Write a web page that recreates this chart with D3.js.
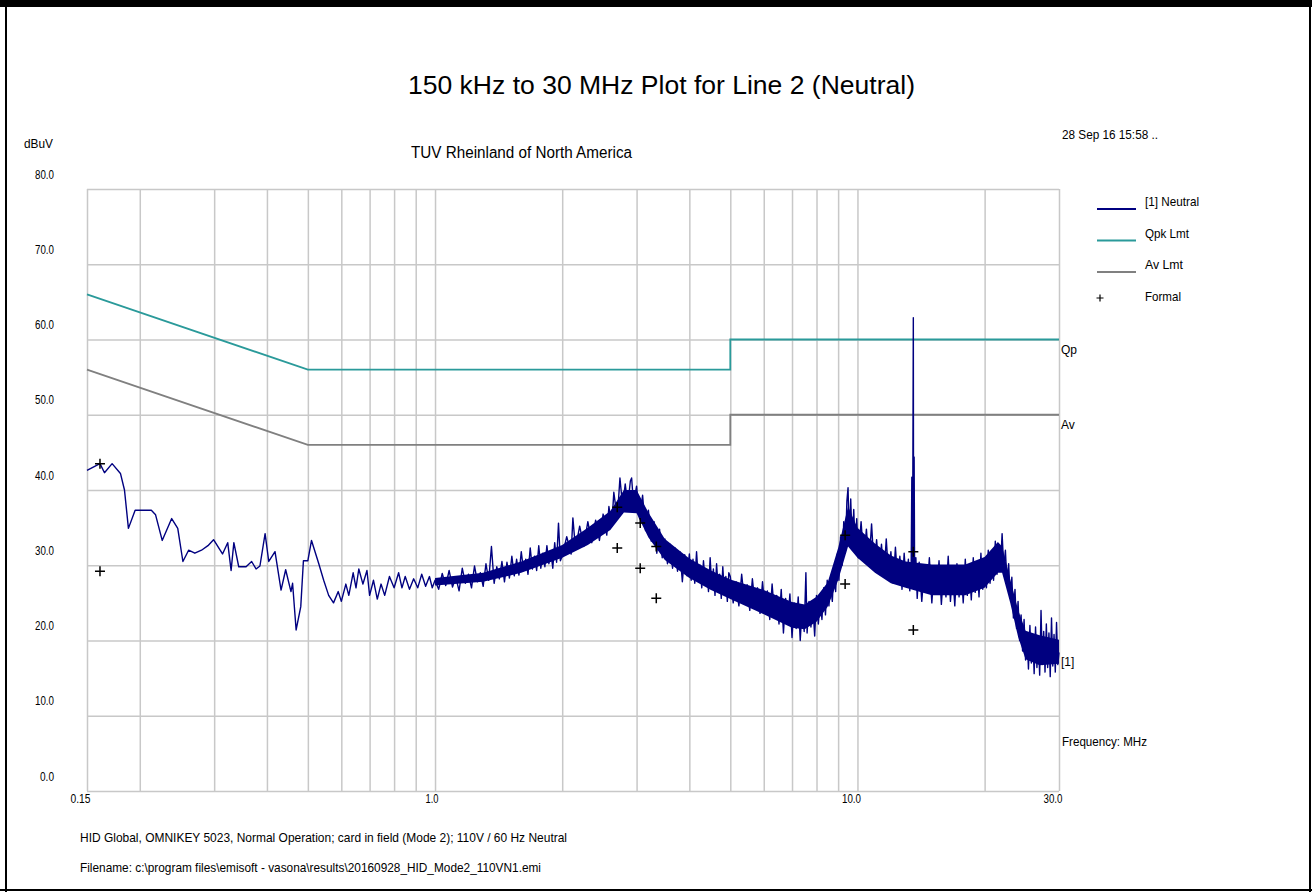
<!DOCTYPE html>
<html>
<head>
<meta charset="utf-8">
<script src="https://cdn.jsdelivr.net/npm/d3@7"></script>
<style>
  body { margin: 0; background: #fff; }
  svg { display: block; }
  text { font-family: "Liberation Sans Narrow", "Arial Narrow", "Liberation Sans", Arial, sans-serif; fill: #000; font-size: 13px; }
  .title { font-family: "Liberation Sans", Arial, sans-serif; font-size: 25px; }
  .grid line { stroke: #c8c8c8; stroke-width: 1.5; }
  .grid path { display: none; }
  .axis path, .axis line { display: none; }
  .axis text { font-size: 13px; }
</style>
</head>
<body>
<div class="chart"></div>
<script>
// axis values
var yTicks = [0, 10, 20, 30, 40, 50, 60, 70, 80];
var xTickLabels = [0.15, 1.0, 10.0, 30.0];
var gridMHz = [0.15, 0.2, 0.3, 0.4, 0.5, 0.6, 0.7, 0.8, 0.9, 1, 2, 3, 4, 5, 6, 7, 8, 9, 10, 20, 30];

// limit lines (MHz, dBuV)
var qpkLimit = [[0.15, 66], [0.5, 56], [5, 56], [5, 60], [30, 60]];
var avLimit = [[0.15, 56], [0.5, 46], [5, 46], [5, 50], [30, 50]];

// formal measurements
var formalMHz = [0.161, 0.161, 2.70, 2.70, 3.06, 3.06, 3.34, 3.34, 9.35, 9.35, 13.56, 13.56];
var formalDb = [43.5, 29.2, 37.7, 32.3, 35.6, 29.6, 32.5, 25.6, 34.0, 27.5, 31.8, 21.4];

// [1] Neutral trace, 0.15 - 1 MHz
var neutralLow = [
  [0.150, 42.6], [0.161, 43.5], [0.165, 42.3], [0.172, 43.5], [0.180, 42.2], [0.184, 40.0],
  [0.188, 34.9], [0.195, 37.3], [0.213, 37.3], [0.218, 36.7], [0.226, 33.3], [0.238, 36.2],
  [0.246, 34.9], [0.253, 30.5], [0.261, 32.0], [0.270, 31.6], [0.280, 32.0], [0.290, 32.6],
  [0.299, 33.4], [0.314, 31.5], [0.323, 33.0], [0.329, 29.3], [0.334, 33.0], [0.343, 29.8],
  [0.357, 29.8], [0.368, 30.5], [0.377, 29.5], [0.385, 29.9], [0.396, 34.2], [0.404, 30.5],
  [0.418, 31.8], [0.432, 26.7], [0.443, 29.4], [0.456, 26.5], [0.460, 27.6], [0.469, 21.4],
  [0.481, 24.5], [0.488, 30.6], [0.500, 30.6], [0.510, 33.3], [0.530, 30.3], [0.545, 28.0],
  [0.560, 26.0], [0.575, 25.0], [0.590, 26.5], [0.600, 25.2], [0.615, 27.5], [0.625, 26.0],
  [0.640, 29.0], [0.650, 27.0], [0.660, 29.5], [0.675, 27.5], [0.690, 29.3], [0.700, 26.0],
  [0.715, 28.0], [0.730, 25.5], [0.745, 27.5], [0.760, 26.0], [0.780, 28.5], [0.800, 27.0],
  [0.820, 29.0], [0.835, 27.0], [0.850, 28.5], [0.870, 26.8], [0.890, 28.2], [0.910, 27.0],
  [0.930, 28.8], [0.950, 27.2], [0.970, 28.5], [0.985, 27.0]
];

// [1] Neutral trace, 1 - 30 MHz (peaks and dips of the noise)
var neutralHigh = [
  [1.00, 28.0], [1.02, 26.8], [1.04, 28.9], [1.06, 27.3], [1.08, 29.3], [1.10, 27.1],
  [1.12, 28.4], [1.14, 26.6], [1.16, 29.6], [1.18, 27.6], [1.20, 28.8], [1.22, 27.0],
  [1.24, 29.9], [1.26, 27.8], [1.28, 29.0], [1.30, 27.2], [1.32, 30.2], [1.34, 28.0],
  [1.36, 32.5], [1.38, 27.6], [1.40, 29.8], [1.42, 28.2], [1.44, 30.5], [1.46, 27.8],
  [1.48, 30.4], [1.50, 28.3], [1.52, 31.2], [1.54, 28.6], [1.56, 30.8], [1.58, 28.7],
  [1.60, 31.8], [1.62, 29.3], [1.64, 30.8], [1.66, 28.8], [1.68, 32.3], [1.70, 29.5],
  [1.72, 31.2], [1.74, 29.3], [1.76, 32.6], [1.78, 29.6], [1.80, 31.6], [1.82, 29.8],
  [1.84, 32.6], [1.86, 30.2], [1.88, 31.8], [1.90, 29.6], [1.92, 33.0], [1.94, 30.4],
  [1.96, 35.6], [1.98, 30.6],
  [2.00, 31.2], [2.05, 33.8], [2.10, 31.5], [2.12, 36.3], [2.15, 32.2], [2.20, 35.2],
  [2.25, 32.5], [2.30, 35.8], [2.35, 33.0], [2.40, 36.0], [2.45, 33.3], [2.50, 36.8],
  [2.55, 34.0], [2.58, 37.8], [2.62, 35.2], [2.65, 39.7], [2.70, 36.2], [2.74, 41.6],
  [2.78, 37.8], [2.82, 40.8], [2.86, 38.0], [2.90, 41.2], [2.92, 41.6], [2.95, 38.2],
  [3.00, 40.5], [3.05, 36.2], [3.10, 39.3], [3.15, 34.6], [3.20, 37.3], [3.25, 33.2],
  [3.30, 35.8], [3.35, 31.6], [3.40, 34.8], [3.45, 31.0], [3.50, 33.5], [3.55, 30.2],
  [3.60, 32.8], [3.65, 29.6], [3.70, 32.3], [3.75, 29.2], [3.80, 31.8], [3.85, 27.8],
  [3.90, 31.4], [3.95, 28.6],
  [4.00, 31.5], [4.04, 28.0], [4.08, 30.8], [4.12, 27.6], [4.16, 31.8], [4.20, 28.2],
  [4.24, 30.0], [4.28, 27.0], [4.32, 30.6], [4.36, 27.8], [4.40, 29.4], [4.44, 26.5],
  [4.48, 31.0], [4.52, 27.2], [4.56, 29.5], [4.60, 26.0], [4.64, 30.2], [4.68, 27.0],
  [4.72, 28.8], [4.76, 25.6], [4.80, 29.8], [4.84, 26.4], [4.88, 28.5], [4.92, 25.2],
  [4.96, 29.0],
  [5.00, 28.5], [5.08, 25.0], [5.16, 27.8], [5.24, 24.6], [5.32, 28.8], [5.40, 25.2],
  [5.48, 27.4], [5.56, 24.0], [5.64, 28.2], [5.72, 24.8], [5.80, 27.0], [5.88, 23.6],
  [5.96, 27.8], [6.04, 24.2], [6.12, 26.6], [6.20, 22.8], [6.28, 27.5], [6.36, 23.6],
  [6.44, 26.0], [6.52, 22.2], [6.60, 26.8], [6.68, 21.0], [6.76, 25.6], [6.84, 22.4],
  [6.92, 26.2], [7.00, 20.4], [7.08, 25.0], [7.16, 21.6], [7.24, 25.8], [7.32, 20.0],
  [7.40, 24.6], [7.48, 21.2], [7.55, 29.0], [7.60, 21.0], [7.68, 25.2], [7.76, 21.8],
  [7.84, 24.8], [7.92, 20.6], [8.00, 26.0], [8.08, 22.2], [8.16, 25.2], [8.24, 22.8],
  [8.32, 27.0], [8.40, 23.4], [8.48, 28.0], [8.56, 24.6], [8.64, 27.4], [8.72, 25.2],
  [8.80, 29.6], [8.88, 26.5], [8.96, 31.5], [9.04, 28.0], [9.12, 33.8], [9.20, 30.0],
  [9.28, 35.8], [9.36, 31.6], [9.44, 38.5], [9.50, 40.3], [9.56, 34.0], [9.64, 38.8],
  [9.72, 32.6], [9.80, 37.4], [9.88, 32.0], [9.96, 36.2],
  [10.05, 31.0], [10.2, 35.8], [10.35, 30.6], [10.5, 34.8], [10.65, 30.0], [10.8, 35.5],
  [10.95, 29.6], [11.1, 33.4], [11.25, 29.0], [11.4, 32.8], [11.55, 28.4], [11.7, 33.5],
  [11.85, 28.6], [12.0, 31.8], [12.15, 27.6], [12.3, 32.4], [12.45, 28.0], [12.6, 31.2],
  [12.75, 26.8], [12.9, 31.6], [13.05, 27.4], [13.2, 30.8], [13.3, 26.6], [13.40, 29.5],
  [13.45, 41.7], [13.50, 28.0], [13.56, 62.9], [13.58, 30.0], [13.62, 44.4], [13.66, 27.0],
  [13.75, 31.0],
  [13.85, 25.6], [14.0, 30.4], [14.2, 25.2], [14.4, 29.6], [14.6, 26.4], [14.8, 31.0],
  [15.0, 25.0], [15.2, 29.8], [15.4, 26.2], [15.6, 30.6], [15.8, 24.8], [16.0, 29.4],
  [16.2, 25.8], [16.4, 31.2], [16.6, 25.2], [16.8, 29.0], [17.0, 24.6], [17.2, 30.2],
  [17.4, 25.8], [17.6, 29.6], [17.8, 25.0], [18.0, 30.8], [18.2, 26.0], [18.4, 29.8],
  [18.6, 25.4], [18.8, 31.0], [19.0, 26.4], [19.2, 30.2], [19.4, 25.8], [19.6, 31.6],
  [19.8, 26.8], [20.0, 30.8],
  [20.2, 27.0], [20.4, 32.0], [20.6, 27.6], [20.8, 31.4], [21.0, 28.0], [21.2, 33.2],
  [21.4, 28.8], [21.6, 32.6], [21.8, 29.4], [22.0, 34.2], [22.2, 29.6], [22.4, 32.0],
  [22.6, 27.4], [22.8, 30.2], [23.0, 25.6], [23.2, 28.4], [23.4, 23.0], [23.6, 26.8],
  [23.8, 21.6], [24.0, 25.2], [24.2, 20.0], [24.4, 23.4], [24.6, 18.6], [24.8, 22.8],
  [25.0, 17.4], [25.2, 21.0], [25.4, 16.2], [25.6, 22.0], [25.8, 17.0], [26.0, 20.6],
  [26.2, 15.6], [26.4, 21.8], [26.6, 16.4], [26.8, 20.4], [27.0, 15.4], [27.2, 24.0],
  [27.4, 16.8], [27.6, 21.2], [27.8, 15.8], [28.0, 22.2], [28.2, 16.4], [28.4, 21.0],
  [28.6, 15.2], [28.8, 23.0], [29.0, 16.6], [29.2, 20.8], [29.4, 15.8], [29.6, 22.4],
  [29.8, 16.8], [30.0, 18.4]
];

// dense core of the noise band (MHz, lower dBuV, upper dBuV)
var bandMHz = [1.0, 1.3, 1.6, 2.0, 2.3, 2.6, 2.8, 3.0, 3.2, 3.5, 4.0, 4.5, 5.0, 6.0, 7.0, 7.5, 8.0, 8.5, 9.0, 9.5, 10.0, 11.0, 12.0, 13.0, 15.0, 18.0, 20.0, 21.5, 22.0, 23.0, 24.0, 25.0, 27.0, 30.0];
var bandLo = [27.3, 27.8, 29.0, 31.0, 32.7, 34.7, 37.0, 36.9, 33.7, 30.7, 28.3, 26.7, 25.5, 23.5, 21.7, 21.5, 22.5, 24.5, 28.0, 32.5, 31.0, 29.0, 27.6, 27.0, 26.0, 26.0, 27.0, 29.0, 29.0, 25.0, 20.5, 17.5, 16.7, 16.9];
var bandHi = [28.3, 29.0, 30.5, 32.7, 35.0, 37.2, 40.0, 40.0, 37.0, 33.5, 30.9, 29.3, 28.1, 26.7, 25.1, 24.8, 25.8, 27.7, 32.3, 37.8, 35.0, 32.9, 31.3, 30.5, 30.1, 30.1, 31.1, 33.1, 32.5, 28.1, 24.1, 21.3, 20.7, 20.1];

// legend entries
var legendNames = ["[1] Neutral", "Qpk Lmt", "Av Lmt", "Formal"];
var legendWidths = [54, 44, 38, 36];

// dimensions
var W = 1312, H = 892;
var plot = {left: 87, right: 1059, top: 189, bottom: 791};

// scales
var x = d3.scaleLog()
  .domain([0.15, 30])
  .range([plot.left, plot.right]);
var y = d3.scaleLinear()
  .domain([0, 80])
  .range([plot.bottom, plot.top]);

var svg = d3.select(".chart")
  .append("svg")
  .attr("width", W)
  .attr("height", H);

// frame
svg.append("rect").attr("x", 0).attr("y", 0).attr("width", W).attr("height", 7).attr("fill", "#000");
svg.append("rect").attr("x", 5).attr("y", 0).attr("width", 2).attr("height", H).attr("fill", "#000");
svg.append("rect").attr("x", W - 3).attr("y", 0).attr("width", 2).attr("height", H).attr("fill", "#000");
svg.append("rect").attr("x", 0).attr("y", H - 3).attr("width", W).attr("height", 2).attr("fill", "#000");

// grid
svg.append("g")
  .attr("class", "grid")
  .attr("transform", "translate(0," + plot.bottom + ")")
  .call(d3.axisBottom(x)
    .tickValues(gridMHz)
    .tickSize(-(plot.bottom - plot.top))
    .tickFormat(""));
svg.append("g")
  .attr("class", "grid")
  .attr("transform", "translate(" + plot.left + ",0)")
  .call(d3.axisLeft(y)
    .tickValues(yTicks)
    .tickSize(-(plot.right - plot.left))
    .tickFormat(""));

// y labels sit above their grid lines
svg.append("g")
  .attr("class", "axis")
  .attr("transform", "translate(54,-15)")
  .call(d3.axisLeft(y)
    .tickValues(yTicks)
    .tickSize(0)
    .tickPadding(0)
    .tickFormat(d3.format(".1f")))
  .selectAll("text")
  .attr("textLength", function(d) { return d < 10 ? 14 : 19; })
  .attr("lengthAdjust", "spacingAndGlyphs");

// x labels
svg.append("g")
  .attr("class", "axis")
  .attr("transform", "translate(3," + (plot.bottom + 3) + ")")
  .call(d3.axisBottom(x)
    .tickValues(xTickLabels)
    .tickSize(0)
    .tickPadding(0)
    .tickFormat(function(d) { return d < 1 ? d3.format(".2f")(d) : d3.format(".1f")(d); }))
  .selectAll("text")
  .attr("text-anchor", "end")
  .attr("textLength", function(d) { return d < 1 ? 20 : (d < 10 ? 13 : 19); })
  .attr("lengthAdjust", "spacingAndGlyphs");

// limits
var line = d3.line()
  .x(function(d) { return x(d[0]); })
  .y(function(d) { return y(d[1]); });

svg.append("path")
  .datum(avLimit)
  .attr("d", line)
  .attr("fill", "none")
  .attr("stroke", "#808080")
  .attr("stroke-width", 1.8);
svg.append("path")
  .datum(qpkLimit)
  .attr("d", line)
  .attr("fill", "none")
  .attr("stroke", "#2a9a9a")
  .attr("stroke-width", 1.8);

// trace: solid core of the noise band, then the peaks
var band = d3.area()
  .x(function(d, i) { return x(d); })
  .y0(function(d, i) { return y(bandLo[i]); })
  .y1(function(d, i) { return y(bandHi[i]); });

svg.append("path")
  .datum(bandMHz)
  .attr("d", band)
  .attr("fill", "#000080");

svg.append("path")
  .datum(neutralLow.concat(neutralHigh))
  .attr("d", line)
  .attr("fill", "none")
  .attr("stroke", "#000080")
  .attr("stroke-width", 1.4)
  .attr("stroke-linejoin", "round");

// formal points
svg.selectAll(".formal")
  .data(formalMHz)
  .enter()
  .append("path")
  .attr("class", "formal")
  .attr("d", "M-5,0H5M0,-5V5")
  .attr("stroke", "#000")
  .attr("stroke-width", 1.5)
  .attr("transform", function(d, i) {
    return "translate(" + x(d) + "," + y(formalDb[i]) + ")";
  });

// titles
svg.append("text")
  .attr("class", "title")
  .attr("x", 408)
  .attr("y", 94)
  .attr("textLength", 507)
  .attr("lengthAdjust", "spacingAndGlyphs")
  .text("150 kHz to 30 MHz Plot for Line 2 (Neutral)");
svg.append("text")
  .attr("x", 411)
  .attr("y", 158)
  .attr("textLength", 221)
  .attr("lengthAdjust", "spacingAndGlyphs")
  .style("font-size", "16px")
  .text("TUV Rheinland of North America");
svg.append("text")
  .attr("x", 24)
  .attr("y", 148)
  .attr("textLength", 29)
  .attr("lengthAdjust", "spacingAndGlyphs")
  .style("font-size", "12px")
  .text("dBuV");
svg.append("text")
  .attr("x", 1062)
  .attr("y", 139)
  .attr("textLength", 96)
  .attr("lengthAdjust", "spacingAndGlyphs")
  .style("font-size", "12px")
  .text("28 Sep 16 15:58 ..");

// right side labels
svg.append("text").attr("x", 1061).attr("y", y(60) + 14).style("font-size", "12px").text("Qp");
svg.append("text").attr("x", 1061).attr("y", y(50) + 14).style("font-size", "12px").text("Av");
svg.append("text").attr("x", 1061).attr("y", 666).style("font-size", "12px").text("[1]");
svg.append("text")
  .attr("x", 1062)
  .attr("y", 746)
  .attr("textLength", 85)
  .attr("lengthAdjust", "spacingAndGlyphs")
  .text("Frequency: MHz");

// legend
var legendColors = ["#000080", "#2a9a9a", "#808080"];
var legend = svg.append("g").attr("transform", "translate(1097,0)");
legend.selectAll("line")
  .data(legendColors)
  .enter()
  .append("line")
  .attr("x1", 0)
  .attr("x2", 39)
  .attr("y1", function(d, i) { return 209 + i * 31.5; })
  .attr("y2", function(d, i) { return 209 + i * 31.5; })
  .attr("stroke", function(d) { return d; })
  .attr("stroke-width", 1.8);
legend.append("path")
  .attr("d", "M-3.5,0H3.5M0,-3.5V3.5")
  .attr("stroke", "#000")
  .attr("stroke-width", 1.2)
  .attr("transform", "translate(3,298)");
legend.selectAll("text")
  .data(legendNames)
  .enter()
  .append("text")
  .attr("x", 48)
  .attr("y", function(d, i) { return 206 + i * 31.5; })
  .attr("textLength", function(d, i) { return legendWidths[i]; })
  .attr("lengthAdjust", "spacingAndGlyphs")
  .text(function(d) { return d; });

// notes
svg.append("text")
  .attr("x", 80)
  .attr("y", 842)
  .attr("textLength", 487)
  .attr("lengthAdjust", "spacingAndGlyphs")
  .text("HID Global, OMNIKEY 5023, Normal Operation; card in field (Mode 2); 110V / 60 Hz Neutral");
svg.append("text")
  .attr("x", 80)
  .attr("y", 872)
  .attr("textLength", 461)
  .attr("lengthAdjust", "spacingAndGlyphs")
  .text("Filename: c:\\program files\\emisoft - vasona\\results\\20160928_HID_Mode2_110VN1.emi");
</script>
</body>
</html>
